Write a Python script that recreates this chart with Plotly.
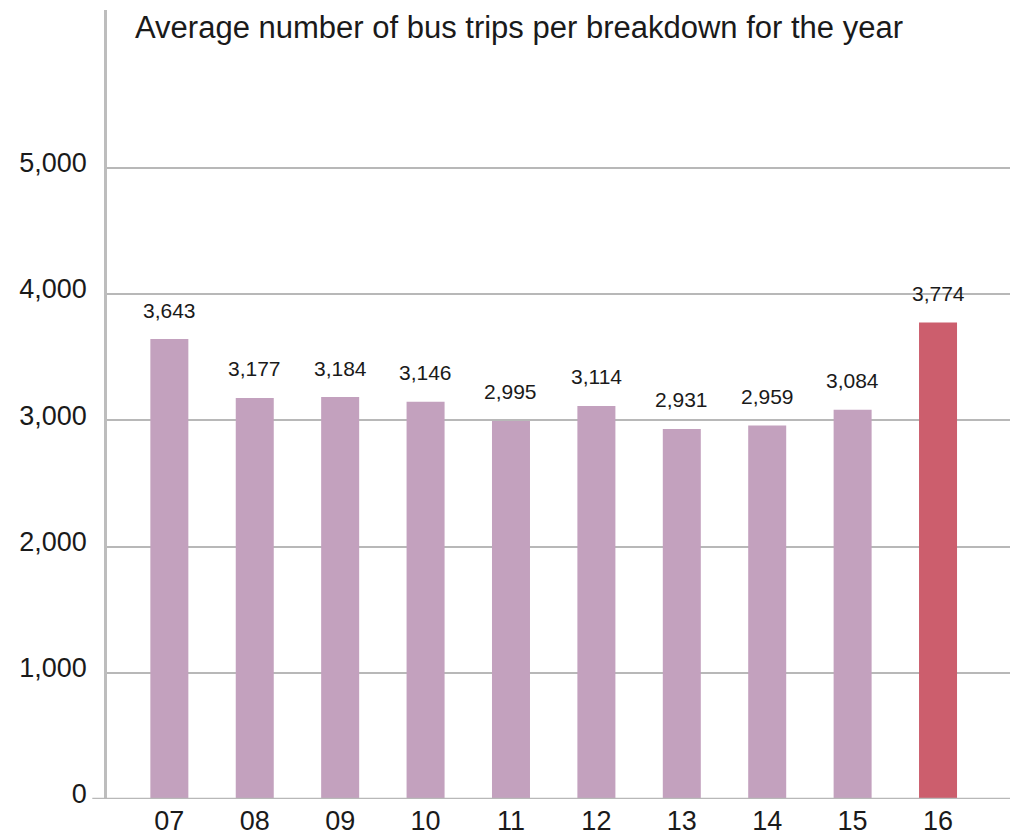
import plotly.graph_objects as go

years = ["07", "08", "09", "10", "11", "12", "13", "14", "15", "16"]
trips = [3643, 3177, 3184, 3146, 2995, 3114, 2931, 2959, 3084, 3774]
bar_colors = ["#C3A1BE"] * 9 + ["#CC5E6D"]
y_ticks = [0, 1000, 2000, 3000, 4000, 5000]
y_tick_text = ["0", "1,000", "2,000", "3,000", "4,000", "5,000"]
title_text = "Average number of bus trips per breakdown for the year"

fig = go.Figure()
fig.add_trace(go.Bar(
    x=list(range(len(years))), y=trips,
    marker=dict(color=bar_colors, line=dict(width=0)),
    hoverinfo="skip",
))

for i, v in enumerate(trips):
    fig.add_annotation(
        x=i, y=v, text=f"{v:,}", showarrow=False, yshift=29,
        font=dict(family="Liberation Sans Narrow, Liberation Sans, Arial", size=21, color="#1a1a1a"),
    )

fig.add_annotation(
    xref="paper", yref="paper", x=0.0283, y=0.978, xanchor="left", yanchor="middle",
    text=title_text, showarrow=False,
    font=dict(family="Liberation Sans, Arial", size=31, color="#1a1a1a"),
)

# axis baseline extending left of the y axis
fig.add_shape(type="line", xref="paper", yref="y", x0=-0.016, x1=1, y0=0, y1=0,
              line=dict(color="#B8B8B8", width=2.5), layer="above")

fig.update_layout(
    width=1018, height=838,
    margin=dict(l=99, r=0, t=2, b=47),
    paper_bgcolor="white", plot_bgcolor="white",
    showlegend=False, bargap=0.555,
    xaxis=dict(
        range=[-0.73, 10.03], tickvals=list(range(len(years))), ticktext=years,
        showgrid=False, zeroline=False, showline=False, ticks="",
        ticklabelstandoff=3,
        tickfont=dict(family="Liberation Sans, Arial", size=27, color="#1a1a1a"),
        fixedrange=True,
    ),
    yaxis=dict(
        range=[0, 6250], tickvals=y_ticks, ticktext=y_tick_text,
        showgrid=True, gridcolor="#B8B8B8", gridwidth=2,
        zeroline=False, showline=True, linecolor="#BDBDBD", linewidth=2.5,
        ticks="", ticklabelstandoff=12, ticklabelshift=-5,
        tickfont=dict(family="Liberation Sans, Arial", size=27, color="#1a1a1a"),
        fixedrange=True,
    ),
)

fig.write_html("out.html")
